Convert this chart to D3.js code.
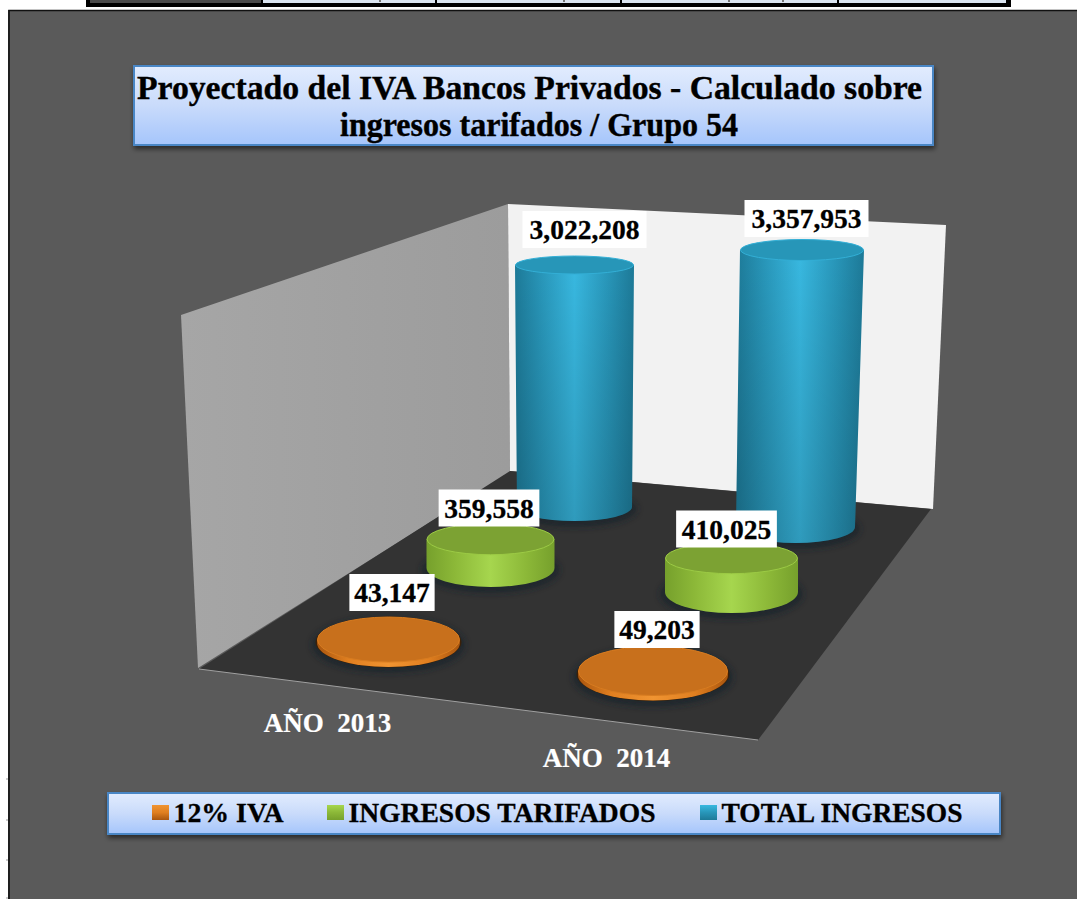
<!DOCTYPE html>
<html><head><meta charset="utf-8">
<script src="https://cdn.jsdelivr.net/npm/d3@7"></script>
<style>html,body{margin:0;padding:0;background:#fff;overflow:hidden}svg{display:block}text{font-family:"Liberation Serif",serif;font-weight:700}</style>
</head><body><svg id="c" width="1077" height="899"></svg>
<script>
const categories=["AÑO  2013","AÑO  2014"];
const seriesNames=["12% IVA","INGRESOS TARIFADOS","TOTAL INGRESOS"];
const iva=[43147,49203];
const tarifados=[359558,410025];
const totales=[3022208,3357953];
const titleLines=["Proyectado del IVA Bancos Privados - Calculado sobre","ingresos tarifados / Grupo 54"];
const seriesValues=[iva,tarifados,totales];

const svg=d3.select("#c"),defs=svg.append("defs");
const fmt=d3.format(",");
const dom=[0,1,2];
const sc=r=>d3.scaleLinear().domain(dom).range(r);
// value -> height, slightly larger for the nearer category
const hS=[d3.scaleLinear().domain([0,3022208]).range([0,242]),d3.scaleLinear().domain([0,3357953]).range([0,277])];
// floor placement per category, indexed by series depth
const cxS=[sc([388.5,490.5,574.5]),sc([653,731.5,795.5])];
const cyS=[sc([643,568,507]),sc([675,592,527])];
const rxS=[sc([71.5,64,57.5]),sc([75,66.5,59.5])];
const ryS=[sc([24,19,14]),sc([25.5,21,16])];
const topRyS=[sc([23,16,9.5]),sc([25,16,11])];
const topRxAdd=[sc([0,0,2]),sc([0,0,2.5])];
const topDx=[sc([0,0,0]),sc([0,0,6.5])];
const pal=[{dark:"#a9560f",mid:"#e07f20",light:"#f09432",top:"#c8701c",rim:"#d87c20"},
           {dark:"#76a02c",mid:"#8cb838",light:"#a6d64e",top:"#7ca233",rim:"#9ccb45"},
           {dark:"#1d7a98",mid:"#2896b9",light:"#38b8e0",top:"#2796b8",rim:"#33afd6"}];
function lg(id,dir,stops){const g=defs.append("linearGradient").attr("id",id);
 if(dir==="h")g.attr("x1",0).attr("x2",1).attr("y1",0).attr("y2",0);else g.attr("x1",0).attr("x2",0).attr("y1",0).attr("y2",1);
 stops.forEach(s=>{const t=g.append("stop").attr("offset",s[0]).attr("stop-color",s[1]);if(s[2]!=null)t.attr("stop-opacity",s[2]);});}
lg("box","v",[[0,"#e2ecfe"],[.5,"#c9dbfb"],[1,"#a5c5fb"]]);
lg("wallL","h",[[0,"#a6a6a6"],[1,"#9c9c9c"]]);
lg("fade","v",[[0,"#000",0],[1,"#000",.16]]);
pal.forEach((p,i)=>lg("cyl"+i,"h",[[0,p.dark],[.22,p.mid],[.5,p.light],[.78,p.mid],[1,p.dark]]));
pal.forEach((p,i)=>lg("sw"+i,"v",[[0,p.light],[.5,p.mid],[1,p.dark]]));
const sh=defs.append("filter").attr("id","sh").attr("x","-5%").attr("y","-20%").attr("width","110%").attr("height","140%");
sh.append("feDropShadow").attr("dx",1).attr("dy",3).attr("stdDeviation",2.5).attr("flood-color","#000").attr("flood-opacity",.55);
const blur=defs.append("filter").attr("id","bl").attr("x","-20%").attr("y","-20%").attr("width","140%").attr("height","140%");
blur.append("feGaussianBlur").attr("stdDeviation",3);

// table strip at the top
svg.append("rect").attr("x",86).attr("y",0).attr("width",925).attr("height",7).attr("fill","#000");
svg.append("rect").attr("x",90).attr("y",0).attr("width",171).attr("height",3).attr("fill","#4a4a4a");
[[263,172],[437,183],[622,215],[839,167]].forEach(d=>svg.append("rect").attr("x",d[0]).attr("y",0).attr("width",d[1]).attr("height",3).attr("fill","#dbe5f1"));
[379,563,728,782].forEach(x=>svg.append("rect").attr("x",x).attr("y",0).attr("width",2).attr("height",2).attr("fill","#777"));

// chart area
svg.append("rect").attr("x",8).attr("y",10).attr("width",1069).attr("height",889).attr("fill","#5a5a5a");
svg.append("path").attr("d","M9,899V10.5H1077").attr("fill","none").attr("stroke","#111").attr("stroke-width",1.6);
[779,820,860,898].forEach(y=>svg.append("rect").attr("x",6).attr("y",y-1).attr("width",2).attr("height",2).attr("fill","#ccc"));

// walls and floor
svg.append("path").attr("d","M181,315L508,204L510,472L198,668Z").attr("fill","url(#wallL)");
svg.append("path").attr("d","M508,204L946,225L933,509L510,471Z").attr("fill","#f2f2f2");
svg.append("path").attr("d","M199,669L510,471L931,509L758,740Z").attr("fill","#333333");
svg.append("path").attr("d","M199,669L758,740").attr("stroke","#a0a0a0").attr("stroke-width",1).attr("fill","none");

// cylinders, back to front
const marks=[];
seriesValues.forEach((vals,s)=>vals.forEach((v,c)=>marks.push({s,c,v})));
marks.sort((a,b)=>b.s-a.s||a.c-b.c);
const g=svg.append("g");
marks.forEach(m=>{
 const cx=cxS[m.c](m.s),cy=cyS[m.c](m.s),rx=rxS[m.c](m.s),ry=ryS[m.c](m.s),H=hS[m.c](m.v),p=pal[m.s];
 const tx=cx+topDx[m.c](m.s),trx=rx+topRxAdd[m.c](m.s),try_=topRyS[m.c](m.s),ty=cy-H;
 g.append("ellipse").attr("cx",cx).attr("cy",cy+2).attr("rx",rx+5).attr("ry",ry+4).attr("fill","#15212a").attr("opacity",.7).attr("filter","url(#bl)");
 if(m.s===0) g.append("ellipse").attr("cx",cx).attr("cy",cy-1).attr("rx",rx+1.5).attr("ry",ry+1.5).attr("fill","#3a2008");
 const d=`M${tx-trx},${ty}L${cx-rx},${cy}A${rx},${ry} 0 0 0 ${cx+rx},${cy}L${tx+trx},${ty}Z`;
 g.append("path").attr("d",d).attr("fill",`url(#cyl${m.s})`);
 if(m.s===2) g.append("path").attr("d",d).attr("fill","url(#fade)");
 g.append("ellipse").attr("cx",tx).attr("cy",ty).attr("rx",trx-.5).attr("ry",try_-.5).attr("fill",p.top).attr("stroke",p.rim).attr("stroke-width",1);
});

// value labels
const labelBox=[[[392,592.5],[657,629.5]],[[489,508],[726.5,529]],[[584.5,229.5],[806.5,218.5]]];
seriesValues.forEach((vals,s)=>vals.forEach((v,c)=>{
 const t=fmt(v),em=t.replace(/,/g,"").length*.5+(t.split(",").length-1)*.25,w=em*31,[x,y]=labelBox[s][c];
 svg.append("rect").attr("x",x-w/2).attr("y",y-18.5).attr("width",w).attr("height",37).attr("fill","#fff");
 svg.append("text").attr("x",x).attr("y",y+9.5).attr("text-anchor","middle").attr("font-size",27.5).attr("fill","#000").attr("stroke","#000").attr("stroke-width",.3).text(t);
}));

// category labels
const catX=d3.scalePoint().domain(categories).range([327.5,606.5]);
const catY=d3.scalePoint().domain(categories).range([731.5,767]);
categories.forEach(c=>svg.append("text").attr("x",catX(c)).attr("y",catY(c)).attr("text-anchor","middle").attr("font-size",27).attr("fill","#fff").attr("stroke","#fff").attr("stroke-width",.2).style("white-space","pre").text(c));

// title box
svg.append("rect").attr("x",134).attr("y",66).attr("width",799).attr("height",79).attr("fill","url(#box)").attr("stroke","#4a86c5").attr("stroke-width",2).attr("filter","url(#sh)");
const titleY=d3.scalePoint().domain(titleLines).range([98.5,135.5]);
const titleLen=[785,398];
titleLines.forEach((l,i)=>svg.append("text").attr("x",i?539:529.5).attr("y",titleY(l)).attr("text-anchor","middle").attr("font-size",33).attr("textLength",titleLen[i]).attr("lengthAdjust","spacingAndGlyphs").attr("fill","#000").attr("stroke","#000").attr("stroke-width",.4).text(l));

// legend
svg.append("rect").attr("x",108).attr("y",793).attr("width",892).attr("height",41).attr("fill","url(#box)").attr("stroke","#4a86c5").attr("stroke-width",2).attr("filter","url(#sh)");
const legX=d3.scaleOrdinal().domain(seriesNames).range([152,327,700]);
const legLen=[110,307,241];
seriesNames.forEach((n,i)=>{
 svg.append("rect").attr("x",legX(n)).attr("y",805).attr("width",17).attr("height",15).attr("fill",`url(#sw${i})`);
 svg.append("text").attr("x",legX(n)+21.5).attr("y",822).attr("font-size",27).attr("textLength",legLen[i]).attr("lengthAdjust","spacingAndGlyphs").attr("fill","#000").attr("stroke","#000").attr("stroke-width",.3).text(n);
});
</script></body></html>
